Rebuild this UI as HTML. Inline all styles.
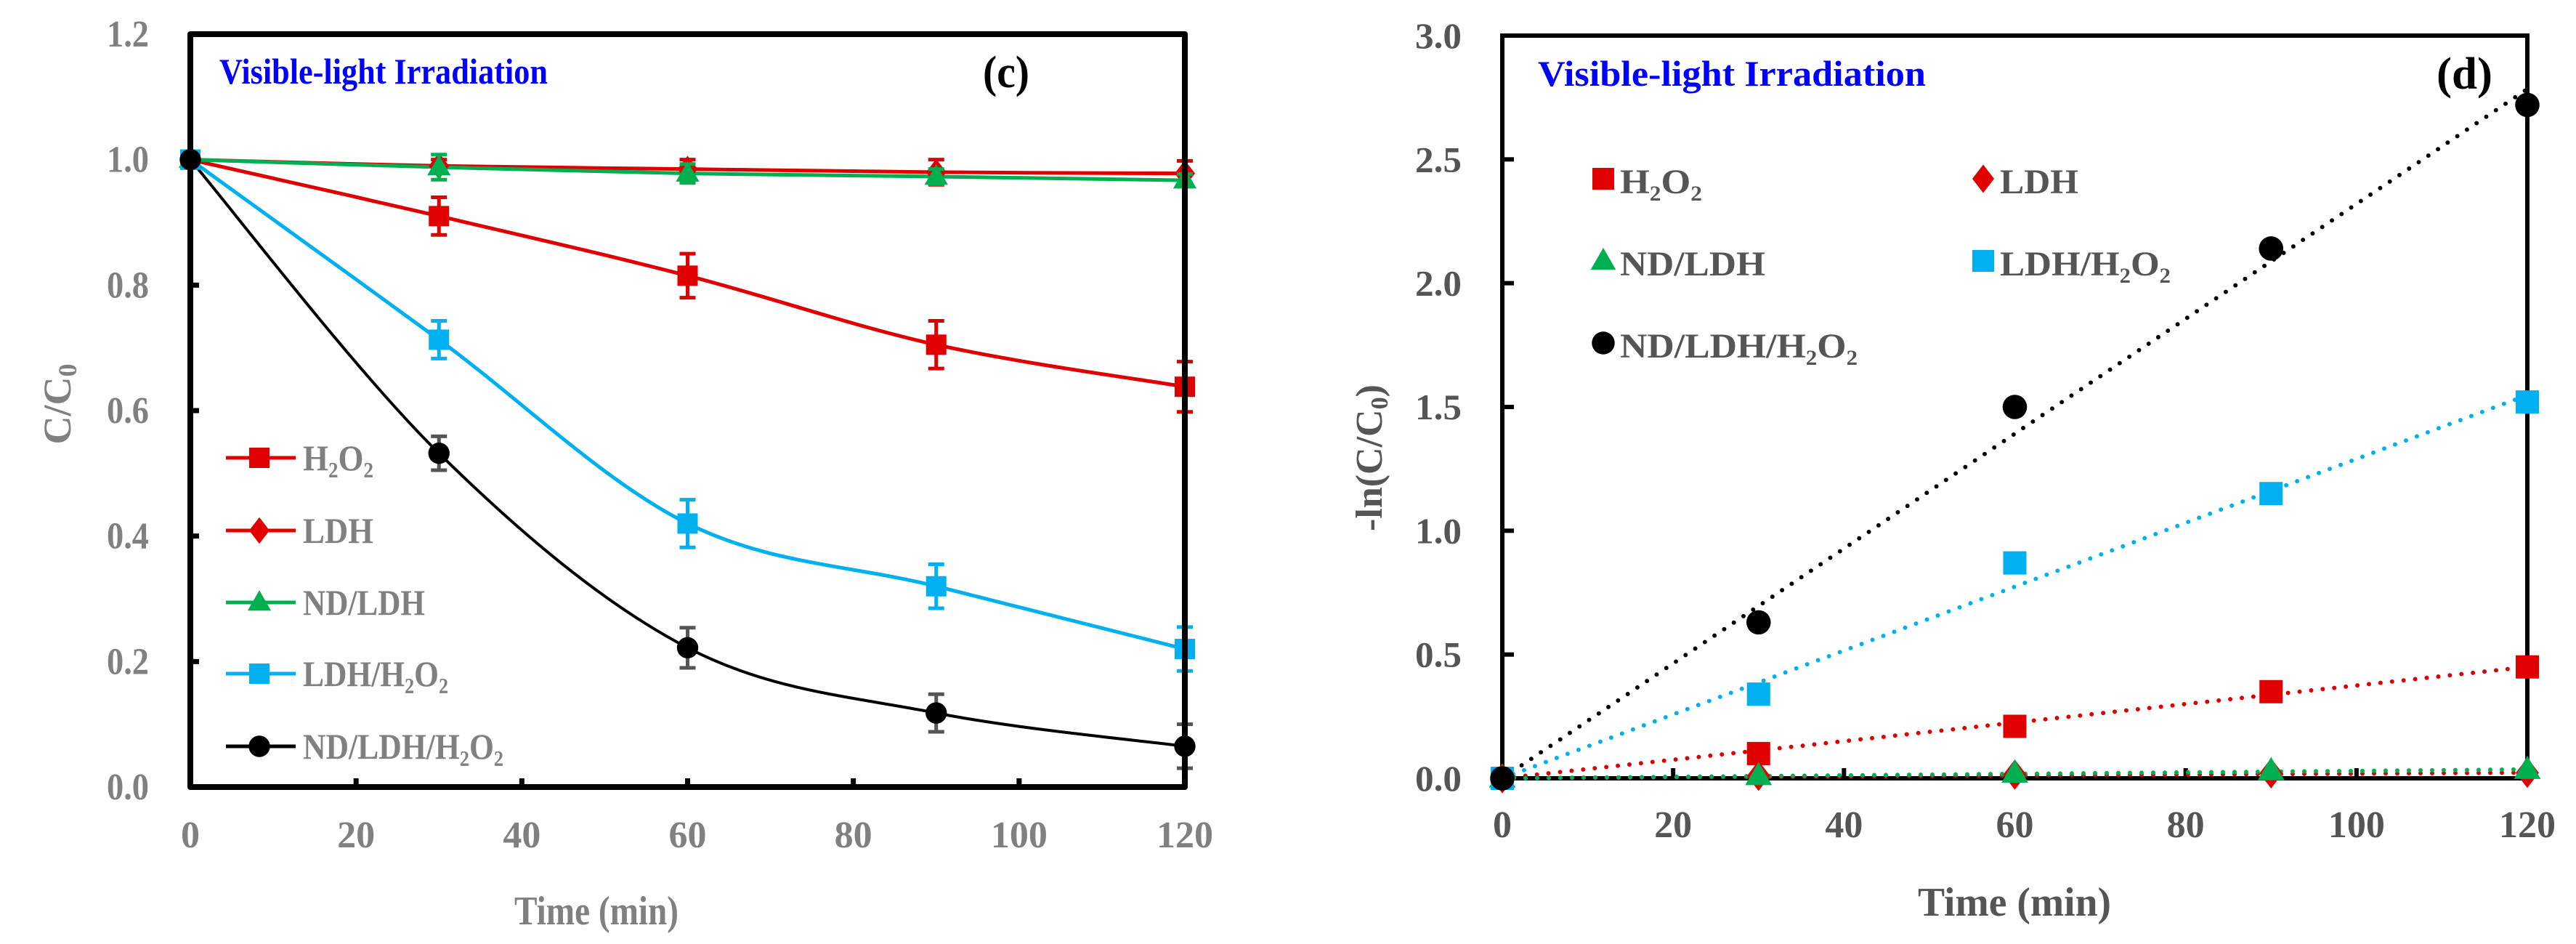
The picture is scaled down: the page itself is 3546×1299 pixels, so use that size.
<!DOCTYPE html>
<html><head><meta charset="utf-8"><style>
html,body{margin:0;padding:0;background:#fff;}
svg{display:block;font-family:"Liberation Serif",serif;font-weight:bold;}
</style></head><body>
<svg id="fig" width="3546" height="1299" viewBox="0 0 3546 1299" xmlns="http://www.w3.org/2000/svg">
<g id="left"></g>
<g id="right"></g>
</svg>
<script>
// ---- data ----
const times = [0, 30, 60, 90, 120];
const xTicks = [0, 20, 40, 60, 80, 100, 120];
const cTicks = [0, 0.2, 0.4, 0.6, 0.8, 1.0, 1.2];
const cTickLabels = ["0.0","0.2","0.4","0.6","0.8","1.0","1.2"];
const dTicks = [0, 0.5, 1.0, 1.5, 2.0, 2.5, 3.0];
const dTickLabels = ["0.0","0.5","1.0","1.5","2.0","2.5","3.0"];
const cH2O2 = [1.0, 0.91, 0.815, 0.705, 0.638];
const eH2O2 = [0, 0.03, 0.035, 0.038, 0.04];
const cLDH = [1.0, 0.99, 0.985, 0.98, 0.978];
const eLDH = [0, 0.01, 0.015, 0.02, 0.02];
const cND = [1.0, 0.988, 0.978, 0.973, 0.967];
const eND = [0, 0.02, 0.015, 0.012, 0.01];
const cLDHH = [1.0, 0.713, 0.42, 0.32, 0.22];
const eLDHH = [0, 0.03, 0.038, 0.035, 0.035];
const cNDH = [1.0, 0.532, 0.222, 0.118, 0.065];
const eNDH = [0, 0.027, 0.032, 0.03, 0.035];
const kH2O2 = [0, 0.10, 0.21, 0.35, 0.45];
const kLDH = [0, 0.01, 0.015, 0.02, 0.022];
const kND = [0, 0.01, 0.02, 0.03, 0.035];
const kLDHH = [0, 0.34, 0.87, 1.15, 1.52];
const kNDH = [0, 0.63, 1.50, 2.14, 2.72];
const fitSlopes = [0.00375, 0.00019, 0.0003, 0.0129, 0.0232];

const NS = "http://www.w3.org/2000/svg";
function mk(parent, tag, attrs, text){
  const e = document.createElementNS(NS, tag);
  for (const k in attrs) e.setAttribute(k, attrs[k]);
  if (text !== undefined) e.textContent = text;
  parent.appendChild(e); return e;
}
const RED="#e00000", GREEN="#00b050", BLUE="#00b0f0", BLACK="#000000";

function marker(g, type, x, y, color, s){
  let e;
  if (type==="square") e = mk(g,"rect",{x:x-s,y:y-s,width:2*s,height:2*s,fill:color});
  else if (type==="diamond") e = mk(g,"polygon",{points:`${x},${y-s*1.3} ${x+s},${y} ${x},${y+s*1.3} ${x-s},${y}`,fill:color});
  else if (type==="triangle") e = mk(g,"polygon",{points:`${x},${y-s*1.2} ${x+s*1.15},${y+s*0.8} ${x-s*1.15},${y+s*0.8}`,fill:color});
  else e = mk(g,"circle",{cx:x,cy:y,r:s*1.05,fill:color});
  return e;
}
function smoothPath(pts){
  let d = `M${pts[0][0]},${pts[0][1]}`;
  for (let i=0;i<pts.length-1;i++){
    const p0=pts[Math.max(0,i-1)], p1=pts[i], p2=pts[i+1], p3=pts[Math.min(pts.length-1,i+2)];
    const t=6;
    const c1=[p1[0]+(p2[0]-p0[0])/t, p1[1]+(p2[1]-p0[1])/t];
    const c2=[p2[0]-(p3[0]-p1[0])/t, p2[1]-(p3[1]-p1[1])/t];
    d+=` C${c1[0]},${c1[1]} ${c2[0]},${c2[1]} ${p2[0]},${p2[1]}`;
  }
  return d;
}

// ---------- Panel C ----------
(function(){
  const g = document.getElementById("left");
  const X0=262, X1=1631, Y0=1083, Y1=47;
  const sx = v => X0 + (X1-X0)*v/120;
  const sy = v => Y0 - (Y0-Y1)*v/1.2;
  const gray="#808080";
  cTicks.forEach((v,i)=>{
    if (i>0 && i<cTicks.length-1){ const t=mk(g,"line",{x1:X0,x2:X0+12,y1:sy(v),y2:sy(v),stroke:"#000","stroke-width":7});
        }
    const l=mk(g,"text",{x:205,y:sy(v)+17,"text-anchor":"end","font-size":52,fill:gray,textLength:58,lengthAdjust:"spacingAndGlyphs"},cTickLabels[i]);
    
    
  });
  xTicks.forEach(v=>{
    if (v>0 && v<120){ const t=mk(g,"line",{x1:sx(v),x2:sx(v),y1:Y0,y2:Y0-12,stroke:"#000","stroke-width":7});
        }
    const l=mk(g,"text",{x:sx(v),y:1166,"text-anchor":"middle","font-size":52,fill:gray},String(v));
    
    
  });
  const series=[
    {n:"h2o2",v:cH2O2,e:eH2O2,c:RED,m:"square",w:5,ec:RED},
    {n:"ldh",v:cLDH,e:eLDH,c:RED,m:"diamond",w:5,ec:RED},
    {n:"nd-ldh",v:cND,e:eND,c:GREEN,m:"triangle",w:5,ec:GREEN},
    {n:"ldh-h2o2",v:cLDHH,e:eLDHH,c:BLUE,m:"square",w:5,ec:BLUE},
    {n:"nd-ldh-h2o2",v:cNDH,e:eNDH,c:BLACK,m:"circle",w:4,ec:"#555"}
  ];
  series.forEach(s=>{
    const pts = times.map((t,i)=>[sx(t),sy(s.v[i])]);
    const p=mk(g,"path",{d:smoothPath(pts),fill:"none",stroke:s.c,"stroke-width":s.w});
    
    
  });
  series.forEach(s=>{
    times.forEach((t,i)=>{
      if (s.e[i]>0){
        const x=sx(t), ya=sy(s.v[i]+s.e[i]), yb=sy(s.v[i]-s.e[i]);
        const eb=mk(g,"path",{d:`M${x},${ya} V${yb} M${x-11},${ya} H${x+11} M${x-11},${yb} H${x+11}`,stroke:s.ec,"stroke-width":5,fill:"none"});
        
        
      }
      const m=marker(g,s.m,sx(t),sy(s.v[i]),s.c,14);
      
      
    });
  });
  const fr=mk(g,"rect",{x:X0,y:Y1,width:X1-X0,height:Y0-Y1,fill:"none",stroke:"#000","stroke-width":8,"stroke-linejoin":"round"});
  
  
  const ti=mk(g,"text",{x:302,y:115,"font-size":50,fill:"#0000ff",textLength:452,lengthAdjust:"spacingAndGlyphs"},"Visible-light Irradiation");
  
  
  const pl=mk(g,"text",{x:1353,y:120,"font-size":62,fill:"#000",textLength:64,lengthAdjust:"spacingAndGlyphs"},"(c)");
  
  
  const yt=mk(g,"text",{x:0,y:0,"font-size":54,fill:gray,"text-anchor":"middle",transform:"translate(97,556) rotate(-90)"},"");
  
  
  yt.innerHTML='C/C<tspan font-size="36" dy="8">0</tspan>';
  const xt=mk(g,"text",{x:708,y:1272,"font-size":56,fill:gray,textLength:226,lengthAdjust:"spacingAndGlyphs"},"Time (min)");
  
  
  const leg=[["H₂O₂",RED,"square",630,97],["LDH",RED,"diamond",730,97],["ND/LDH",GREEN,"triangle",829,168],["LDH/H₂O₂",BLUE,"square",927,200],["ND/LDH/H₂O₂",BLACK,"circle",1027,276]];
  leg.forEach(L=>{
    const lg=mk(g,"g",{});
    
    
    mk(lg,"line",{x1:311,x2:407,y1:L[3],y2:L[3],stroke:L[1],"stroke-width":5});
    marker(lg,L[2],357,L[3],L[1],14);
    mk(lg,"text",{x:417,y:L[3]+17,"font-size":50,fill:gray,textLength:L[4],lengthAdjust:"spacingAndGlyphs"},L[0]);
  });
})();

// ---------- Panel D ----------
(function(){
  const g = document.getElementById("right");
  const X0=2068, X1=3479, Y0=1071, Y1=49;
  const sx = v => X0 + (X1-X0)*v/120;
  const sy = v => Y0 - (Y0-Y1)*v/3;
  const gray="#555555";
  dTicks.forEach((v,i)=>{
    if (i>0 && i<dTicks.length-1){ const t=mk(g,"line",{x1:X0,x2:X0+16,y1:sy(v),y2:sy(v),stroke:"#000","stroke-width":6});
        }
    const l=mk(g,"text",{x:2012,y:sy(v)+17,"text-anchor":"end","font-size":50,fill:gray,textLength:64,lengthAdjust:"spacingAndGlyphs"},dTickLabels[i]);
    
    
  });
  xTicks.forEach(v=>{
    if (v>0 && v<120){ const t=mk(g,"line",{x1:sx(v),x2:sx(v),y1:Y0,y2:Y0-14,stroke:"#000","stroke-width":6});
        }
    const l=mk(g,"text",{x:sx(v),y:1152,"text-anchor":"middle","font-size":52,fill:gray},String(v));
    
    
  });
  const fr=mk(g,"rect",{x:X0,y:Y1,width:X1-X0,height:Y0-Y1,fill:"none",stroke:"#000","stroke-width":6});
  
  
  const series=[
    {n:"h2o2",v:kH2O2,c:RED,m:"square"},
    {n:"ldh",v:kLDH,c:RED,m:"diamond"},
    {n:"nd-ldh",v:kND,c:GREEN,m:"triangle"},
    {n:"ldh-h2o2",v:kLDHH,c:BLUE,m:"square"},
    {n:"nd-ldh-h2o2",v:kNDH,c:BLACK,m:"circle"}
  ];
  series.forEach((s,k)=>{
    const fl=mk(g,"line",{x1:sx(0),y1:sy(0),x2:sx(120),y2:sy(fitSlopes[k]*120),stroke:s.c,"stroke-width":6,"stroke-dasharray":"0 16","stroke-linecap":"round"});
    
    
  });
  series.forEach(s=>{
    times.forEach((t,i)=>{
      const m=marker(g,s.m,sx(t),sy(s.v[i]),s.c,16);
      
      
    });
  });
  const ti=mk(g,"text",{x:2117,y:118,"font-size":50,fill:"#0000ff",textLength:534,lengthAdjust:"spacingAndGlyphs"},"Visible-light Irradiation");
  
  
  const pl=mk(g,"text",{x:3354,y:122,"font-size":62,fill:"#000",textLength:77,lengthAdjust:"spacingAndGlyphs"},"(d)");
  
  
  const yt=mk(g,"text",{x:0,y:0,"font-size":52,fill:gray,"text-anchor":"middle",transform:"translate(1902,630) rotate(-90)"},"");
  
  
  yt.innerHTML='-ln(C/C<tspan font-size="34" dy="8">0</tspan><tspan dy="-8">)</tspan>';
  const xt=mk(g,"text",{x:2640,y:1260,"font-size":56,fill:gray,textLength:266,lengthAdjust:"spacingAndGlyphs"},"Time (min)");
  
  
  const leg=[["H₂O₂",RED,"square",2207,246,113],["LDH",RED,"diamond",2730,246,108],["ND/LDH",GREEN,"triangle",2207,359,200],["LDH/H₂O₂",BLUE,"square",2730,359,235],["ND/LDH/H₂O₂",BLACK,"circle",2207,472,327]];
  leg.forEach(L=>{
    const lg=mk(g,"g",{});
    
    
    marker(lg,L[2],L[3],L[4],L[1],15);
    mk(lg,"text",{x:L[3]+23,y:L[4]+20,"font-size":48,fill:gray,textLength:L[5],lengthAdjust:"spacingAndGlyphs"},L[0]);
  });
})();
</script>
</body></html>
